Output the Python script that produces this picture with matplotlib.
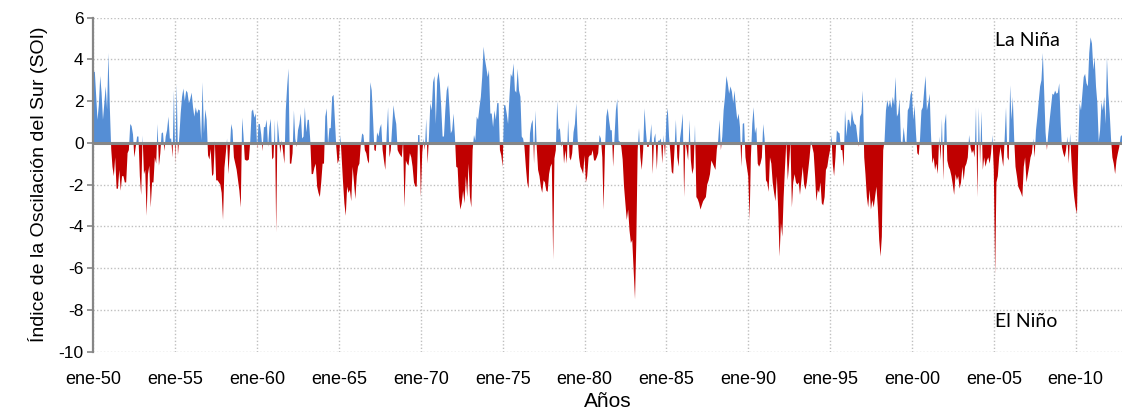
import numpy as np
import pandas as pd
import matplotlib
matplotlib.use("Agg")
import matplotlib.pyplot as plt

# monthly SOI values, Jan 1950 onwards
soi_1950s = [
    3.4, 3.4, 2.3, 1.1, 1.8, 3.2, 2.4, 1.1, 1.9, 2.7, 1.6, 4.3,
    1.7, -0.3, -1.15, -1.6, -0.7, -2.2, -2.2, -1.3, -2.3, -1.6, -1.6, -1.9,
    -1.9, -0.5, -0.35, 0.9, 0.8, 0.4, -0.7, -0.2, 0.3, 0.3, -1.6, -2.5,
    0.35, -1.5, -1.3, -3.5, -1.5, -1.1, -3.1, -1.9, -1.9, -0.7, -1.0, 0.9,
    -1.1, -0.5, 0.45, 0.5, -0.4, 0.3, 0.6, 1.25, 0.2, 0.2, -0.7, 2.5,
    -1.0, 2.8, -0.6, 0.3, 1.4, 2.2, 2.6, 2.0, 2.5, 2.4, 1.9, 2.1,
    2.4, 1.7, 1.25, 1.7, 1.4, 1.6, 1.55, 0.1, 2.9, 0.45, 1.6, 1.1,
    -0.6, -0.8, -0.3, -1.6, -1.5, 0.1, -1.8, -1.8, -1.9, -2.0, -2.4, -3.7,
    -1.2, -0.5, 0.2, -1.5, -0.4, 0.9, 0.6, -0.7, -1.0, -1.3, -1.8, -2.3,
    -3.1, 1.2, 0.4, -0.8, -0.85, -0.85, -0.8, 0.1, 1.5, 1.6, 1.2, 1.4,
]
soi_1960s = [
    -0.3, 0.9, 0.9, 0.4, -0.4, 0.75, 0.75, 1.1, -0.2, 0.75, 1.15, -0.8,
    -0.7, 1.1, -4.3, 1.1, 0.3, -0.5, 0.13, -0.4, -1.0, 1.55, 2.7, 3.55,
    -1.0, -1.0, -0.5, 1.55, 0.2, -0.2, 0.6, 0.9, 1.4, 0.2, 0.3, 1.7,
    0.5, 1.1, 1.1, 0.1, -1.5, -1.5, -1.2, -1.0, -2.1, -2.4, -2.6, -1.9,
    -1.0, -1.0, 1.25, 1.65, -0.1, 0.7, 0.7, 2.2, 2.3, 1.1, -0.2, -1.0,
    -0.8, 0.37, -0.7, -1.9, -2.9, -3.5, -2.1, -2.4, -2.25, -2.8, -1.15, -1.9,
    -2.7, -1.6, -1.15, -1.0, -0.1, 0.45, 0.37, -0.35, -0.5, -0.85, -1.0, 2.9,
    2.5, 1.1, -0.35, -0.4, 0.5, 0.3, 0.7, 0.9, -0.35, -0.85, -1.3, 0.45,
    1.7, -0.7, -0.35, 0.75, 1.8, 1.25, 0.9, -0.35, -0.5, -0.6, -0.7, 0.1,
    -3.1, -0.85, -1.0, -1.1, -0.5, -0.7, -1.15, -1.9, -2.1, -2.1, 0.37, 0.37,
]
soi_1970s = [
    -2.6, -0.5, 0.2, -0.35, 1.15, -1.0, 0.3, 1.9, 1.55, 2.9, 3.2, 0.9,
    3.0, 3.4, 2.85, 1.7, 0.3, 0.3, 1.55, 2.5, 2.75, 1.7, 0.45, 0.6,
    1.4, 0.3, -1.15, -1.2, -2.6, -3.2, -2.9, -2.3, -2.9, -1.6, -2.6, -1.0,
    -2.6, -3.1, -0.35, 0.37, 0.1, 1.25, 1.1, 1.7, 2.2, 3.15, 4.6, 4.0,
    3.6, 3.15, 3.5, 1.4, 1.4, 0.75, 1.55, 1.1, 1.9, 1.9, -0.35, -0.6,
    -1.15, 1.8, 1.8, 1.4, 0.9, 2.2, 3.3, 3.15, 3.8, 2.5, 2.4, 3.55,
    2.5, 2.2, 0.3, 0.2, -0.2, -1.15, -1.9, -2.2, 0.45, 0.9, 1.1, -1.0,
    1.55, -0.3, -1.3, -1.6, -2.1, -2.4, -1.8, -1.9, -2.3, -2.35, -1.5, -1.15,
    -1.0, -5.6, -0.75, -0.35, 2.0, 0.6, 0.7, -0.2, 0.1, -1.0, -0.35, -1.0,
    1.1, -0.7, -0.85, -0.5, 0.5, 0.9, 1.9, 0.2, -0.7, -1.15, -1.3, -1.5,
]
soi_1980s = [
    -0.6, -1.9, -1.6, -0.7, -0.6, -0.6, -0.35, -0.85, -0.85, -0.7, -0.5, 0.37,
    0.2, -0.7, -3.2, -0.35, 1.25, 1.65, 1.1, 0.6, 0.6, -1.15, 0.3, 1.55,
    2.1, 0.1, 0.05, -0.2, -0.8, -2.1, -2.9, -3.7, -3.2, -4.2, -4.8, -4.65,
    -6.1, -7.5, -4.8, -0.35, 0.7, -0.7, -1.3, -0.35, 1.65, 0.6, -0.2, -0.2,
    0.2, 0.9, -1.5, 0.2, 0.45, -1.3, 0.1, 0.1, 0.2, -1.0, 0.37, -0.7,
    1.2, 1.65, 0.3, -0.5, -1.4, -1.5, -0.3, 1.1, -0.7, -1.15, 0.2, 0.7,
    1.4, -2.6, 0.1, -0.35, -0.85, 1.1, -0.85, -1.5, -1.2, 0.85, -2.6, -2.7,
    -2.9, -3.2, -3.0, -2.8, -2.7, -2.6, -2.0, -1.8, -1.5, -0.85, -1.0, -1.15,
    -1.3, -0.3, 0.1, 1.1, -0.35, 0.3, 1.55, 2.2, 3.2, 2.85, 2.35, 2.7,
    2.45, 1.9, 2.5, 1.7, 1.1, 1.4, 0.75, -1.15, 0.9, 0.95, -0.7, -1.15,
]
soi_1990s = [
    -1.6, -3.7, -0.7, 0.9, 1.7, 0.45, 0.75, -1.0, -1.15, -1.0, -0.7, 0.9,
    0.2, -1.8, -1.9, -2.35, -0.7, -1.0, -1.9, -2.4, -2.8, -1.6, -3.2, -5.45,
    -3.85, -4.5, -2.6, -1.15, 0.1, -1.8, -1.0, 0.05, -3.1, -1.9, -1.5, -1.9,
    -2.0, -1.9, -2.5, -1.8, -1.15, -2.0, -2.25, -1.9, -1.3, -0.7, 0.1, -0.2,
    -0.5, -1.6, -2.8, -2.25, -2.4, -1.9, -2.9, -3.0, -2.6, -1.3, -1.15, -0.7,
    -0.35, 0.37, -1.0, -1.6, -0.7, 0.6, 0.5, 0.45, -0.35, -0.35, -1.15, 1.55,
    0.3, 1.1, 1.1, 0.75, 1.55, 1.1, 0.9, 0.85, 0.3, -0.2, 1.25, 1.4,
    2.5, -0.7, -1.5, -2.6, -3.1, -2.25, -3.2, -2.75, -3.1, -2.6, -2.1, -3.1,
    -4.65, -5.45, -4.5, -0.35, 0.1, 1.55, 2.05, 1.7, 2.05, 1.65, 2.2, 1.8,
    3.15, 1.25, 1.4, 2.1, 0.1, -0.1, 0.75, 0.1, -0.1, 1.55, 1.7, 2.3,
]
soi_2000s = [
    2.5, 1.1, 1.8, 0.45, -0.5, -0.6, 0.2, 1.55, 1.7, 2.5, 3.2, 1.55,
    1.9, 2.35, 0.45, -1.0, -0.7, -1.3, -1.0, -1.5, 0.3, -0.85, 1.15, -1.8,
    0.9, 1.4, -0.85, -1.15, -1.3, -1.6, -2.0, -2.5, -1.5, -1.8, -1.6, -2.2,
    -1.9, -1.15, -1.8, -1.15, -1.0, -0.7, 0.37, -0.2, -0.5, -0.35, -0.7, 1.7,
    -2.6, 1.7, -1.0, 1.5, -1.3, -0.7, -1.15, -0.85, -0.7, -1.0, -0.5, 0.37,
    -1.3, -6.3, -1.9, -1.6, -0.7, -0.2, -0.7, -1.15, 0.2, 1.7, -0.7, -0.85,
    2.75, 1.1, 2.2, 0.2, -1.15, -1.6, -2.1, -2.25, -2.4, -2.6, -1.15, -0.7,
    -1.9, -1.5, -1.15, -0.7, -0.5, 0.2, -0.7, 0.6, 1.25, 2.0, 2.7, 3.0,
    4.3, 2.35, 0.5, -0.35, 0.45, 1.1, 1.7, 2.35, 2.3, 2.5, 2.35, 2.4,
    2.85, 1.0, -0.2, -0.5, -0.7, -0.35, 0.3, -1.0, 0.45, -0.85, -1.9, -2.6,
]
soi_2010s = [
    -3.1, -3.4, -0.05, 1.9, 1.55, 2.35, 3.15, 3.3, 2.85, 2.7, 4.3, 5.05,
    4.75, 3.5, 4.1, 2.7, 1.9, 0.05, 0.6, 1.95, 1.55, 2.2, 0.9, 4.1,
    2.35, 1.4, 0.2, -0.7, -1.0, -1.5, -0.85, -0.5, -0.2, 0.3, 0.37,
]

soi = np.array(soi_1950s + soi_1960s + soi_1970s + soi_1980s
               + soi_1990s + soi_2000s + soi_2010s)
dates = pd.date_range("1950-01-01", periods=len(soi), freq="MS")
tick_years = list(range(1950, 2011, 5))
y_ticks = list(range(-10, 7, 2))

blue = "#558ED5"
red = "#C00000"
axis_gray = "#868686"

plt.rcParams["font.family"] = ["Liberation Sans", "DejaVu Sans"]
plt.rcParams["axes.unicode_minus"] = False

fig = plt.figure(figsize=(11.22, 4.17), dpi=100)
ax = fig.add_axes([0.0833, 0.157, 0.9167, 0.801])

ax.fill_between(dates, soi, 0, where=soi >= 0, interpolate=True,
                color=blue, lw=0, zorder=2)
ax.fill_between(dates, soi, 0, where=soi <= 0, interpolate=True,
                color=red, lw=0, zorder=2)
ax.axhline(0, color=axis_gray, lw=2.2, zorder=3)

ax.set_ylim(-10, 6)
ax.set_yticks(y_ticks)
ax.set_xlim(dates[0], dates[-1])
ax.set_xticks([pd.Timestamp(f"{y}-01-01") for y in tick_years])
ax.set_xticklabels([f"ene-{y % 100:02d}" for y in tick_years])

ax.grid(True, color="#BFBFBF", linestyle=(0, (1, 1.5)), lw=1.0, zorder=0)
ax.set_axisbelow(True)

for side in ["top", "right", "bottom"]:
    ax.spines[side].set_visible(False)
ax.spines["left"].set_color(axis_gray)
ax.spines["left"].set_linewidth(1.6)
ax.tick_params(axis="y", length=4, width=1.2, color=axis_gray,
               labelsize=12.5, pad=3)
ax.tick_params(axis="x", length=0, labelsize=13, pad=14)

ax.set_xlabel("Años", fontsize=15, labelpad=3)
ax.set_ylabel("Índice de la Oscilación del Sur (SOI)", fontsize=14,
              labelpad=8)

ax.text(0.877, 0.932, "La Niña", transform=ax.transAxes, fontsize=14,
        family=["Lato", "DejaVu Sans"], va="center", ha="left")
ax.text(0.877, 0.089, "El Niño", transform=ax.transAxes, fontsize=14,
        family=["Lato", "DejaVu Sans"], va="center", ha="left")

fig.savefig("out.png", dpi=100)
